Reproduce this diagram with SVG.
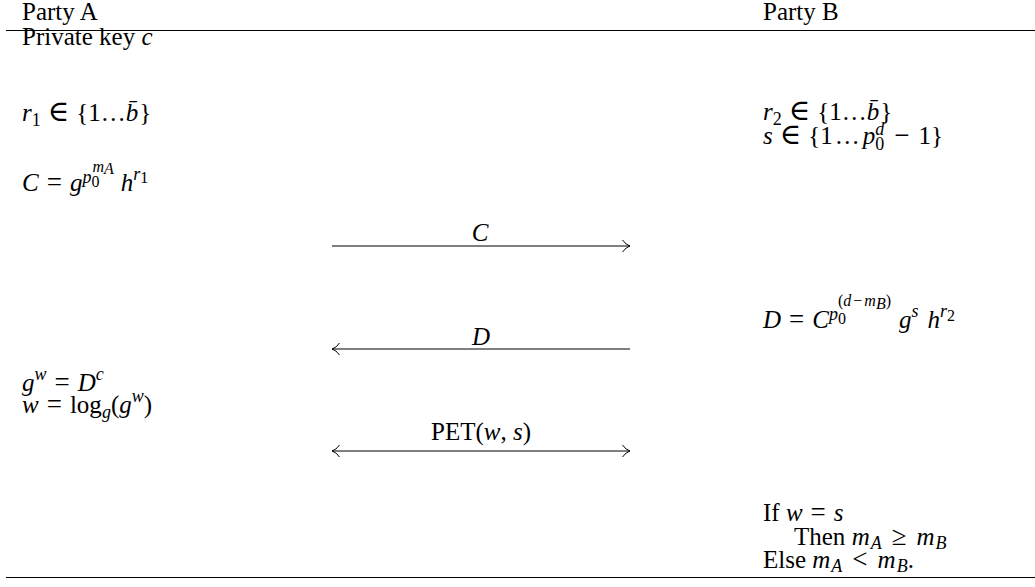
<svg xmlns="http://www.w3.org/2000/svg" width="1035" height="587" viewBox="0 0 1035 587">
<style>
text{font-family:"Liberation Serif","Times New Roman",serif;font-size:25px;fill:#000}
.i{font-style:italic}
.s{font-size:18px}
.ss{font-size:16px}
.rel{font-size:27px}
.in{font-family:"DejaVu Serif","Liberation Serif",serif;font-size:29px}
.rule{stroke:#000;stroke-width:1.1;fill:none}
.arr{stroke:#000;stroke-width:1;fill:none}
</style>
<defs>
<marker id="head" viewBox="-9 -7 10 14" refX="0" refY="0" markerWidth="10" markerHeight="14" markerUnits="userSpaceOnUse" orient="auto-start-reverse">
<path d="M-7.5,-6 Q-4,-1 0,0 Q-4,1 -7.5,6" fill="none" stroke="#000" stroke-width="1"/>
</marker>
</defs>
<g id="rules">
<line class="rule" x1="6" y1="30.5" x2="1035" y2="30.5"/>
<line class="rule" x1="6" y1="577.5" x2="1035" y2="577.5"/>
</g>
<g id="party-a-header"><text x="22" y="20">Party A</text></g>
<g id="party-b-header"><text x="763" y="20">Party B</text></g>
<g id="a-key"><text x="22" y="45">Private key <tspan class="i">c</tspan></text></g>
<g id="a-r1"><text x="22" y="121"><tspan class="i">r</tspan><tspan class="s" dy="5">1</tspan><tspan dy="-5" dx="7" class="in">∈</tspan><tspan dx="7">{1…</tspan><tspan class="i">b̄</tspan><tspan dx="1">}</tspan></text></g>
<g id="a-commit"><text x="22" y="191"><tspan class="i">C</tspan><tspan dx="8" class="rel">=</tspan><tspan dx="8" class="i">g</tspan><tspan class="i s" dy="-8">p</tspan><tspan class="ss" dy="4">0</tspan><tspan class="i ss" dx="-7" dy="-15">m</tspan><tspan class="i ss" dy="2">A</tspan><tspan dy="17" dx="7" class="i">h</tspan><tspan class="i s" dy="-11">r</tspan><tspan class="ss" dy="3">1</tspan></text></g>
<g id="b-r2"><text x="763" y="120"><tspan class="i">r</tspan><tspan class="s" dy="5">2</tspan><tspan dy="-5" dx="7" class="in">∈</tspan><tspan dx="7">{1…</tspan><tspan class="i">b̄</tspan><tspan dx="1">}</tspan></text></g>
<g id="b-s"><text x="763" y="144"><tspan class="i">s</tspan><tspan dx="7" class="in">∈</tspan><tspan dx="7">{1</tspan><tspan dx="2">…</tspan><tspan class="i" dx="3">p</tspan><tspan class="i s" dy="-9">d</tspan><tspan class="s" dx="-9" dy="15">0</tspan><tspan dy="-6" dx="10" class="rel">−</tspan><tspan dx="9">1}</tspan></text></g>
<g id="b-response"><text x="763" y="328"><tspan class="i">D</tspan><tspan dx="8" class="rel">=</tspan><tspan dx="8" class="i">C</tspan><tspan class="i s" dy="-8">p</tspan><tspan class="ss" dy="4">0</tspan><tspan class="ss" dx="-8" dy="-18">(</tspan><tspan class="i ss">d</tspan><tspan class="ss" dx="2">−</tspan><tspan class="i ss" dx="2">m</tspan><tspan class="i ss" dy="3" font-size="13">B</tspan><tspan class="ss" dy="-3">)</tspan><tspan dy="22" dx="8" class="i">g</tspan><tspan class="i s" dy="-11">s</tspan><tspan dy="11" dx="9" class="i">h</tspan><tspan class="i s" dy="-11">r</tspan><tspan class="ss" dy="4">2</tspan></text></g>
<g id="a-decrypt"><text x="22" y="391"><tspan class="i">g</tspan><tspan class="i s" dy="-11">w</tspan><tspan dy="11" dx="8" class="rel">=</tspan><tspan dx="8" class="i">D</tspan><tspan class="i s" dy="-11">c</tspan></text><text x="22" y="413"><tspan class="i">w</tspan><tspan dx="8" class="rel">=</tspan><tspan dx="8">log</tspan><tspan class="i s" dy="5">g</tspan><tspan dy="-5">(</tspan><tspan class="i">g</tspan><tspan class="i s" dy="-11">w</tspan><tspan dy="11">)</tspan></text></g>
<g id="b-result"><text x="763" y="521">If <tspan class="i">w</tspan><tspan dx="8" class="rel">=</tspan><tspan dx="8" class="i">s</tspan></text><text x="794" y="545">Then <tspan class="i">m</tspan><tspan class="i s" dx="1" dy="4">A</tspan><tspan dy="-4" dx="10" class="rel">≥</tspan><tspan dx="10" class="i">m</tspan><tspan class="i s" dx="1" dy="4">B</tspan></text><text x="763" y="568">Else <tspan class="i">m</tspan><tspan class="i s" dx="1" dy="4">A</tspan><tspan dy="-4" dx="10" class="rel">&lt;</tspan><tspan dx="10" class="i">m</tspan><tspan class="i s" dx="1" dy="4">B</tspan><tspan dy="-4">.</tspan></text></g>
<g id="connectors">
<line class="arr" x1="332" y1="246" x2="630" y2="246" marker-end="url(#head)"/>
<line class="arr" x1="332" y1="349" x2="630" y2="349" marker-start="url(#head)"/>
<line class="arr" x1="332" y1="451" x2="630" y2="451" marker-start="url(#head)" marker-end="url(#head)"/>
<text x="480" y="241" text-anchor="middle" class="i">C</text>
<text x="481" y="345" text-anchor="middle" class="i">D</text>
<text x="481" y="440" text-anchor="middle">PET(<tspan class="i">w</tspan>, <tspan class="i">s</tspan>)</text>
</g>
</svg>
